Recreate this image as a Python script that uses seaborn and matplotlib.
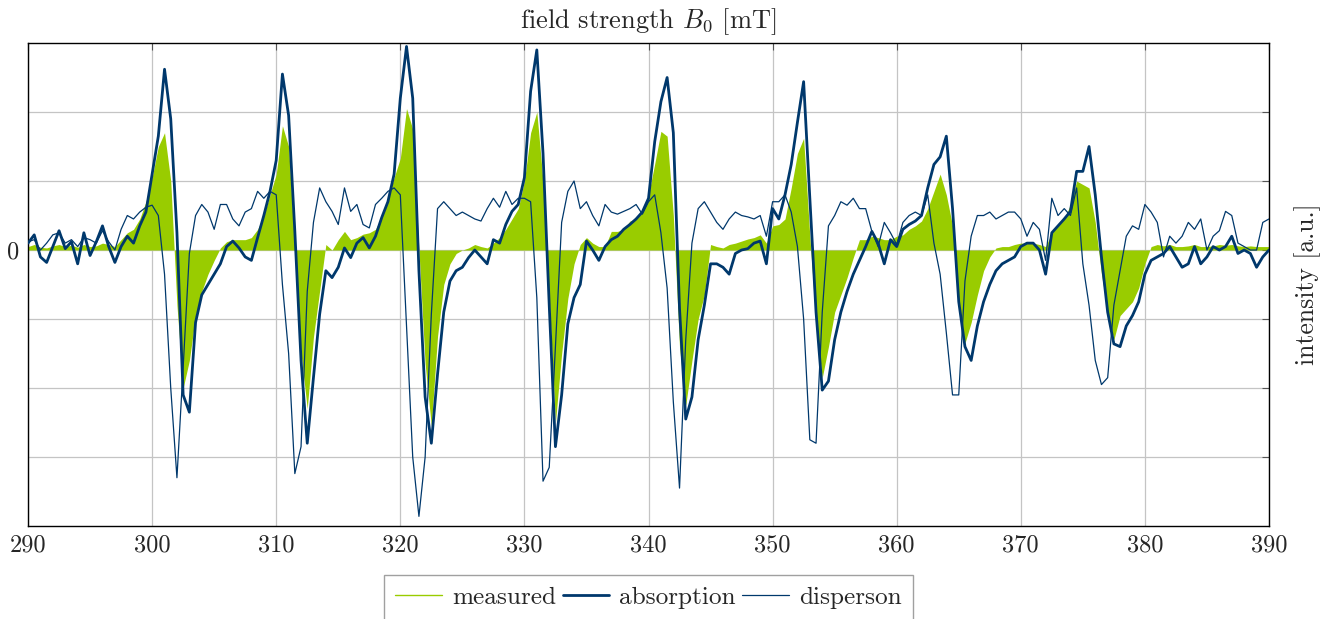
import numpy as np
import matplotlib
matplotlib.use("Agg")
import matplotlib.pyplot as plt
from matplotlib.lines import Line2D
import seaborn as sns

# magnetic field sweep (mT), sampled every 0.5 mT
field = np.arange(290.0, 390.01, 0.5)

# measured EPR derivative signal (a.u.)
measured = [
    0.05, 0.08, 0.04, 0.03, 0.06, 0.08, 0.05, 0.07, 0.04, 0.08,
    0.05, 0.06, 0.10, 0.08, 0.05, 0.15, 0.25, 0.30, 0.45, 0.70,
    1.05, 1.50, 1.70, 1.00, -0.80, -2.00, -1.60, -0.95, -0.60, -0.35,
    -0.15, 0.03, 0.12, 0.15, 0.15, 0.15, 0.18, 0.30, 0.50, 0.80,
    1.10, 1.80, 1.50, 0.00, -1.50, -2.30, -1.26, -0.59, 0.08, 0.00,
    0.15, 0.27, 0.15, 0.18, 0.23, 0.25, 0.30, 0.48, 0.75, 1.05,
    1.33, 2.05, 1.75, 0.00, -1.65, -2.55, -1.25, -0.50, -0.20, -0.05,
    0.00, 0.03, 0.08, 0.05, 0.03, 0.10, 0.18, 0.30, 0.45, 0.60,
    1.00, 1.70, 2.00, 1.00, -0.70, -2.50, -1.50, -0.70, -0.20, 0.08,
    0.18, 0.10, 0.05, 0.05, 0.27, 0.27, 0.30, 0.42, 0.45, 0.55,
    0.80, 1.25, 1.72, 1.65, 0.50, -1.41, -2.25, -1.60, -1.00, -0.65,
    0.08, 0.05, 0.03, 0.08, 0.10, 0.13, 0.16, 0.18, 0.22, 0.10,
    0.35, 0.37, 0.45, 0.90, 1.40, 1.62, 0.20, -1.10, -1.85, -1.40,
    -0.90, -0.65, -0.40, -0.11, 0.15, 0.15, 0.20, 0.18, 0.15, 0.15,
    0.20, 0.22, 0.30, 0.35, 0.42, 0.60, 0.85, 1.10, 0.80, 0.35,
    -0.80, -1.35, -1.05, -0.65, -0.30, -0.10, 0.03, 0.05, 0.05, 0.08,
    0.10, 0.10, 0.10, 0.08, 0.05, 0.25, 0.35, 0.45, 0.66, 1.00,
    0.95, 0.90, 0.40, -0.35, -0.90, -1.30, -0.95, -0.85, -0.75, -0.55,
    -0.20, 0.05, 0.08, 0.06, 0.08, 0.05, 0.05, 0.06, 0.08, 0.05,
    0.05, 0.06, 0.08, 0.07, 0.08, 0.06, 0.05, 0.06, 0.05, 0.05,
    0.05,
]

# absorption component (a.u.)
absorption = [
    0.10, 0.22, -0.10, -0.18, 0.05, 0.28, 0.02, 0.12, -0.20, 0.25,
    -0.08, 0.12, 0.35, 0.05, -0.18, 0.05, 0.20, 0.10, 0.35, 0.55,
    1.10, 1.65, 2.62, 1.90, 0.25, -2.10, -2.35, -1.05, -0.65, -0.50,
    -0.35, -0.20, 0.05, 0.13, 0.03, -0.10, -0.15, 0.18, 0.50, 0.85,
    1.30, 2.55, 1.95, 0.27, -1.60, -2.80, -1.85, -0.93, -0.30, -0.40,
    -0.25, 0.03, -0.11, 0.10, 0.18, 0.03, 0.20, 0.47, 0.70, 1.10,
    2.20, 2.95, 2.20, -0.30, -2.13, -2.80, -1.80, -0.90, -0.45, -0.30,
    -0.25, -0.11, 0.00, -0.10, -0.20, 0.15, 0.10, 0.37, 0.56, 0.66,
    1.05, 2.30, 2.90, 1.40, -0.80, -2.85, -2.10, -1.07, -0.69, -0.50,
    0.13, 0.00, -0.15, 0.05, 0.15, 0.20, 0.30, 0.37, 0.45, 0.55,
    0.75, 1.57, 2.15, 2.50, 1.70, -0.85, -2.45, -2.13, -1.30, -0.80,
    -0.20, -0.20, -0.25, -0.35, -0.05, 0.00, 0.02, 0.10, 0.13, -0.20,
    0.60, 0.45, 0.80, 1.24, 1.85, 2.44, 0.75, -0.90, -2.03, -1.90,
    -1.30, -0.90, -0.60, -0.35, -0.15, 0.05, 0.27, 0.10, -0.20, 0.15,
    0.05, 0.30, 0.37, 0.42, 0.50, 0.90, 1.24, 1.35, 1.65, 0.60,
    -0.75, -1.40, -1.60, -1.10, -0.75, -0.50, -0.30, -0.20, -0.15, -0.10,
    0.05, 0.10, 0.10, 0.00, -0.35, 0.25, 0.35, 0.45, 0.56, 1.14,
    1.14, 1.50, 0.80, -0.10, -0.90, -1.36, -1.40, -1.10, -0.95, -0.75,
    -0.35, -0.15, -0.10, -0.05, 0.05, -0.10, -0.25, -0.20, 0.05, -0.20,
    -0.10, 0.05, 0.00, 0.05, 0.20, -0.05, 0.00, -0.05, -0.25, -0.10,
    0.00,
]

# dispersion component (a.u.)
dispersion = [
    0.12, 0.15, 0.00, 0.10, 0.22, 0.25, 0.10, 0.15, 0.05, 0.18,
    0.15, 0.10, 0.28, 0.12, 0.00, 0.30, 0.50, 0.45, 0.55, 0.62,
    0.65, 0.50, -0.35, -2.00, -3.30, -1.70, -0.05, 0.50, 0.66, 0.55,
    0.30, 0.66, 0.66, 0.45, 0.35, 0.55, 0.60, 0.85, 0.75, 0.85,
    0.80, -0.50, -1.50, -3.24, -2.85, -0.60, 0.40, 0.90, 0.70, 0.56,
    0.37, 0.90, 0.56, 0.66, 0.37, 0.32, 0.66, 0.75, 0.85, 0.90,
    0.80, -1.10, -3.00, -3.86, -3.00, -0.93, 0.60, 0.70, 0.60, 0.50,
    0.55, 0.50, 0.45, 0.42, 0.60, 0.75, 0.62, 0.85, 0.66, 0.75,
    0.75, 0.70, -0.69, -3.35, -3.15, -1.40, 0.40, 0.85, 1.00, 0.60,
    0.70, 0.50, 0.35, 0.66, 0.55, 0.52, 0.56, 0.60, 0.66, 0.52,
    0.70, 0.80, 0.25, -0.55, -2.20, -3.45, -1.30, 0.10, 0.60, 0.70,
    0.55, 0.40, 0.30, 0.45, 0.55, 0.50, 0.48, 0.45, 0.50, 0.20,
    0.70, 0.70, 0.80, 0.55, 0.05, -1.00, -2.75, -2.80, -0.90, 0.35,
    0.50, 0.70, 0.65, 0.75, 0.60, 0.60, 0.27, 0.05, 0.40, 0.25,
    0.08, 0.40, 0.50, 0.55, 0.50, 0.80, 0.10, -0.35, -1.20, -2.10,
    -2.10, -0.45, 0.20, 0.50, 0.50, 0.55, 0.45, 0.50, 0.55, 0.55,
    0.45, 0.20, 0.40, 0.30, -0.15, 0.75, 0.50, 0.60, 0.50, 0.90,
    -0.20, -0.80, -1.60, -1.95, -1.85, -0.80, -0.30, 0.20, 0.35, 0.30,
    0.66, 0.55, 0.40, -0.10, 0.20, 0.10, 0.20, 0.40, 0.30, 0.45,
    0.00, 0.20, 0.28, 0.56, 0.50, 0.10, 0.05, 0.00, 0.00, 0.40,
    0.45,
]

x_ticks = [290, 300, 310, 320, 330, 340, 350, 360, 370, 380, 390]
y_ticks = [-3, -2, -1, 0, 1, 2]
y_tick_labels = ["", "", "", "0", "", ""]
series_names = ["measured", "absorption", "disperson"]

GREEN = "#99cc00"
BLUE = "#00386c"

sns.set_theme(style="white")
plt.rcParams["font.family"] = ["cmr10", "DejaVu Serif"]
plt.rcParams["mathtext.fontset"] = "cm"
plt.rcParams["axes.formatter.use_mathtext"] = True
plt.rcParams["font.size"] = 17.5

fig = plt.figure(figsize=(13.41, 6.19), dpi=100)
ax = fig.add_axes([0.0209, 0.1502, 0.9254, 0.7803])

ax.set_axisbelow(True)
ax.grid(True, color="#c4c4c4", linewidth=0.9)

ax.fill_between(field, 0, measured, color=GREEN, linewidth=0, zorder=2)
sns.lineplot(x=field, y=absorption, ax=ax, color=BLUE, linewidth=2.0,
             legend=False, zorder=3)
sns.lineplot(x=field, y=dispersion, ax=ax, color=BLUE, linewidth=0.9,
             legend=False, zorder=4)

ax.set_xlim(290, 390)
ax.set_ylim(-4, 3)
ax.set_xticks(x_ticks)
ax.set_xticklabels([str(t) for t in x_ticks], fontsize=17.5)
ax.set_yticks(y_ticks)
ax.set_yticklabels(y_tick_labels, fontsize=17.5)
ax.tick_params(axis="both", which="both", direction="in", length=5,
               width=0.8, color="#555555", top=True, right=True,
               labeltop=False, labelright=False, pad=6)

for sp in ax.spines.values():
    sp.set_color("black")
    sp.set_linewidth(1.0)

ax.set_title(r"field strength $B_0$ [mT]", fontsize=19, pad=11)
ax.yaxis.set_label_position("right")
ax.set_ylabel("intensity [a.u.]", fontsize=18.5, labelpad=18)
ax.set_xlabel("")

handles = [
    Line2D([0], [0], color=GREEN, linewidth=1.0),
    Line2D([0], [0], color=BLUE, linewidth=2.0),
    Line2D([0], [0], color=BLUE, linewidth=0.9),
]
fig.legend(handles, series_names, loc="upper center",
           bbox_to_anchor=(0.4836, 0.071), ncol=3, frameon=True,
           fancybox=False, edgecolor="#a0a0a0", framealpha=1,
           fontsize=18.2, handlelength=1.85, handletextpad=0.4,
           columnspacing=0.25, borderpad=0.45, borderaxespad=0)

fig.savefig("out.png", dpi=100)
